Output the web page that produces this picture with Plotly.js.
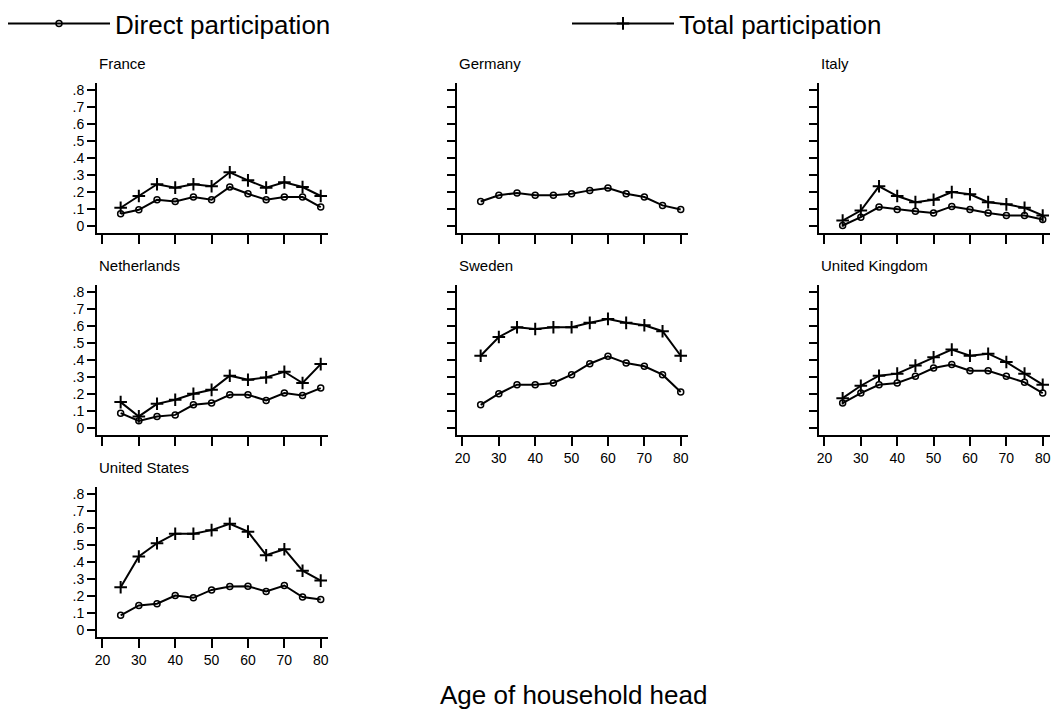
<!DOCTYPE html>
<html>
<head>
<meta charset="utf-8">
<script src="https://cdn.plot.ly/plotly-3.0.1.min.js"></script>
<style>html,body{margin:0;padding:0;background:#fff;}#chart{width:1053px;height:714px;}</style>
</head>
<body>
<div id="chart"></div>
<script>
// ---- data ----
const ages = [25, 30, 35, 40, 45, 50, 55, 60, 65, 70, 75, 80];

const franceDirect = [0.073, 0.096, 0.155, 0.145, 0.171, 0.155, 0.230, 0.190, 0.155, 0.171, 0.171, 0.112];
const franceTotal  = [0.108, 0.177, 0.246, 0.226, 0.246, 0.234, 0.316, 0.269, 0.226, 0.257, 0.230, 0.177];

const germanyDirect = [0.145, 0.181, 0.195, 0.181, 0.181, 0.190, 0.210, 0.224, 0.190, 0.171, 0.122, 0.098];

const italyDirect = [0.004, 0.053, 0.112, 0.098, 0.088, 0.077, 0.116, 0.098, 0.077, 0.063, 0.063, 0.039];
const italyTotal  = [0.033, 0.092, 0.234, 0.177, 0.141, 0.155, 0.200, 0.187, 0.141, 0.128, 0.108, 0.063];

const netherlandsDirect = [0.088, 0.043, 0.069, 0.078, 0.137, 0.147, 0.196, 0.196, 0.163, 0.206, 0.192, 0.235];
const netherlandsTotal  = [0.153, 0.069, 0.143, 0.167, 0.202, 0.225, 0.308, 0.284, 0.298, 0.331, 0.265, 0.376];

const swedenDirect = [0.137, 0.202, 0.255, 0.255, 0.265, 0.314, 0.378, 0.422, 0.382, 0.363, 0.314, 0.212];
const swedenTotal  = [0.425, 0.535, 0.592, 0.582, 0.592, 0.592, 0.618, 0.641, 0.618, 0.604, 0.569, 0.425];

const ukDirect = [0.147, 0.206, 0.255, 0.265, 0.304, 0.353, 0.373, 0.337, 0.337, 0.304, 0.269, 0.206];
const ukTotal  = [0.176, 0.249, 0.308, 0.320, 0.367, 0.416, 0.461, 0.425, 0.437, 0.388, 0.320, 0.255];

const usDirect = [0.087, 0.145, 0.155, 0.203, 0.190, 0.236, 0.256, 0.258, 0.227, 0.262, 0.194, 0.180];
const usTotal  = [0.252, 0.432, 0.510, 0.566, 0.566, 0.587, 0.624, 0.578, 0.440, 0.475, 0.349, 0.291];

const countries = ['France', 'Germany', 'Italy', 'Netherlands', 'Sweden', 'United Kingdom', 'United States'];
const directSeries = [franceDirect, germanyDirect, italyDirect, netherlandsDirect, swedenDirect, ukDirect, usDirect];
const totalSeries  = [franceTotal, null, italyTotal, netherlandsTotal, swedenTotal, ukTotal, usTotal];

const xTickVals = [20, 30, 40, 50, 60, 70, 80];
const xTickText = ['20', '30', '40', '50', '60', '70', '80'];
const yTickVals = [0, 0.1, 0.2, 0.3, 0.4, 0.5, 0.6, 0.7, 0.8];
const yTickText = ['0', '.1', '.2', '.3', '.4', '.5', '.6', '.7', '.8'];

const legendNames = ['Direct participation', 'Total participation'];
const xTitle = 'Age of household head';

// ---- layout geometry ----
const W = 1053, H = 714;
const colLeft = [97, 457, 819];
const rowTop = [83, 285, 487];
const pw = 231, ph = 150;
const FONT = '"Liberation Sans", Arial, Helvetica, sans-serif';

const legendBase = {
  orientation: 'h', y: 1, xanchor: 'left', yanchor: 'top',
  font: {family: FONT, size: 26, color: '#000'},
  itemwidth: 102, bgcolor: 'rgba(0,0,0,0)', borderwidth: 0
};

const traces = [];
const layout = {
  width: W, height: H,
  margin: {l: 0, r: 0, t: 0, b: 0},
  paper_bgcolor: '#fff', plot_bgcolor: '#fff',
  font: {family: FONT, color: '#000', size: 14},
  showlegend: true,
  legend: Object.assign({}, legendBase, {x: 3 / W}),
  legend2: Object.assign({}, legendBase, {x: 567 / W}),
  annotations: []
};

countries.forEach((name, i) => {
  const row = Math.floor(i / 3), col = i % 3;
  const ax = i === 0 ? '' : String(i + 1);
  const xa = 'xaxis' + ax, ya = 'yaxis' + ax;
  const hasBelow = (i + 3) < countries.length;
  const left = colLeft[col], top = rowTop[row];
  layout[xa] = {
    domain: [left / W, (left + pw) / W], anchor: 'y' + ax,
    range: [18.5, 82], showgrid: false, zeroline: false,
    showline: true, linecolor: '#000', linewidth: 2,
    ticks: 'outside', ticklen: 9, tickwidth: 2, tickcolor: '#000',
    tickvals: xTickVals, ticktext: xTickText,
    showticklabels: !hasBelow, tickfont: {size: 14}, fixedrange: true
  };
  layout[ya] = {
    domain: [1 - (top + ph) / H, 1 - top / H], anchor: 'x' + ax,
    range: [-0.04, 0.84], showgrid: false, zeroline: false,
    showline: true, linecolor: '#000', linewidth: 2,
    ticks: 'outside', ticklen: 8, tickwidth: 2, tickcolor: '#000',
    tickvals: yTickVals, ticktext: yTickText,
    showticklabels: col === 0, tickfont: {size: 14}, fixedrange: true
  };
  layout.annotations.push({
    text: name, xref: 'paper', yref: 'paper',
    x: left / W, y: 1 - (top - 20) / H, xanchor: 'left', yanchor: 'middle',
    showarrow: false, font: {size: 15, family: FONT}
  });
  traces.push({
    x: ages, y: directSeries[i], xaxis: 'x' + ax, yaxis: 'y' + ax,
    type: 'scatter', mode: 'lines+markers', name: legendNames[0],
    legend: 'legend', showlegend: i === 0, line: {color: '#000', width: 2},
    marker: {symbol: 'circle-open', size: 6, color: '#000', line: {color: '#000', width: 1.5}},
    hoverinfo: 'skip'
  });
  if (totalSeries[i]) {
    traces.push({
      x: ages, y: totalSeries[i], xaxis: 'x' + ax, yaxis: 'y' + ax,
      type: 'scatter', mode: 'lines+markers', name: legendNames[1],
      legend: 'legend2', showlegend: i === 0, line: {color: '#000', width: 2},
      marker: {symbol: 'cross-thin-open', size: 9, color: '#000', line: {color: '#000', width: 2}},
      hoverinfo: 'skip'
    });
  }
});

layout.annotations.push({
  text: xTitle, xref: 'paper', yref: 'paper',
  x: (colLeft[0] + colLeft[2] + pw) / 2 / W, y: 1 - 695 / H, xanchor: 'center', yanchor: 'middle',
  showarrow: false, font: {size: 26, family: FONT}
});

Plotly.newPlot('chart', traces, layout, {staticPlot: true, displayModeBar: false});
</script>
</body>
</html>
